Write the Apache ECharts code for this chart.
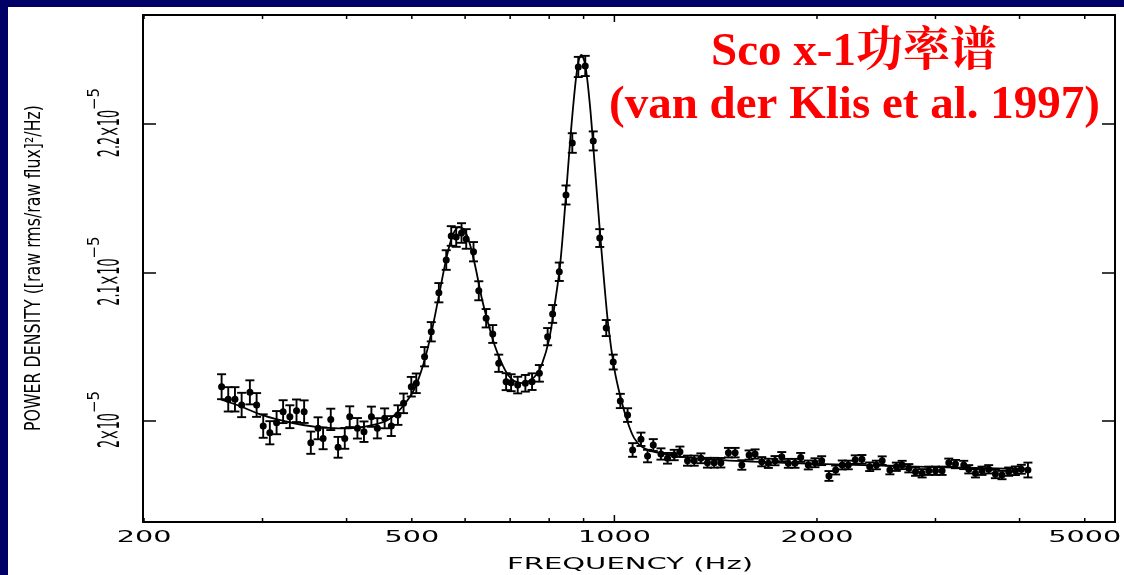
<!DOCTYPE html>
<html>
<head>
<meta charset="utf-8">
<script src="https://cdn.jsdelivr.net/npm/echarts@6/dist/echarts.min.js"></script>
<style>
  html, body { margin: 0; padding: 0; width: 1124px; height: 575px; background: #000066; overflow: hidden; }
  #chart { position: absolute; left: 8px; top: 7px; width: 1116px; height: 568px; background: #ffffff; }
</style>
</head>
<body>
<div id="chart"></div>
<script>
// Sco X-1 power density spectrum (van der Klis et al. 1997)
// Power values are in units of 1e-5 (raw rms/raw flux)^2/Hz.

const freqHz = [
  260.8, 266.8, 273.0, 279.3, 287.3, 294.0, 300.7, 307.6, 314.8, 321.9,
  329.4, 337.0, 345.9, 353.9, 362.8, 369.1, 378.9, 388.5, 397.5, 404.3,
  415.1, 424.5, 435.4, 444.4, 455.6, 466.1, 476.8, 486.1, 499.1, 507.7,
  522.3, 534.4, 548.5, 562.5, 572.2, 582.0, 592.7, 602.3, 617.5, 628.8,
  644.8, 659.5, 673.2, 690.4, 702.3, 718.3, 737.4, 754.5, 773.6, 795.8,
  809.5, 828.2, 847.4, 865.8, 883.8, 905.1, 930.2, 951.1, 972.5, 996.0,
  1020.5, 1046.2, 1064.3, 1095.2, 1120.2, 1142.3, 1172.7, 1199.4, 1227.2, 1251.3,
  1284.3, 1314.0, 1344.4, 1375.0, 1406.9, 1439.4, 1477.3, 1511.5, 1546.5, 1585.5,
  1618.3, 1655.8, 1693.5, 1732.7, 1772.9, 1813.3, 1855.2, 1891.7, 1941.5, 1986.4,
  2032.4, 2083.8, 2132.0, 2180.8, 2226.0, 2279.8, 2332.6, 2395.4, 2450.8, 2500.0,
  2566.6, 2624.2, 2676.8, 2738.8, 2802.2, 2866.0, 2932.4, 3000.4, 3068.8, 3139.8,
  3212.6, 3304.8, 3361.8, 3439.6, 3518.0, 3599.4, 3682.8, 3766.8, 3853.8, 3943.0,
  4024.6, 4116.4
];

const powerE5 = [
  2.0231, 2.0146, 2.0146, 2.0108, 2.0193, 2.0108, 1.9966, 1.9921, 1.9989, 2.0063,
  2.0029, 2.0069, 2.0063, 1.9854, 1.9951, 1.9883, 2.0011, 1.9823, 1.9883, 2.0029,
  1.9951, 1.9928, 2.0029, 1.9951, 2.0018, 1.9966, 2.0040, 2.0119, 2.0231, 2.0254,
  2.0433, 2.0601, 2.0864, 2.1084, 2.1246, 2.1239, 2.1266, 2.1226, 2.1140, 2.0877,
  2.0692, 2.0586, 2.0389, 2.0265, 2.0258, 2.0242, 2.0254, 2.0265, 2.0321, 2.0568,
  2.0721, 2.1005, 2.1522, 2.1872, 2.2384, 2.2391, 2.1886, 2.1232, 2.0626, 2.0397,
  2.0135, 2.0040, 1.9805, 1.9877, 1.9764, 1.9838, 1.9778, 1.9749, 1.9771, 1.9793,
  1.9733, 1.9733, 1.9749, 1.9719, 1.9719, 1.9719, 1.9787, 1.9787, 1.9704, 1.9771,
  1.9778, 1.9726, 1.9715, 1.9733, 1.9760, 1.9715, 1.9715, 1.9755, 1.9704, 1.9719,
  1.9733, 1.9630, 1.9670, 1.9704, 1.9704, 1.9740, 1.9742, 1.9692, 1.9704, 1.9733,
  1.9670, 1.9692, 1.9704, 1.9682, 1.9659, 1.9648, 1.9665, 1.9665, 1.9665, 1.9719,
  1.9710, 1.9704, 1.9675, 1.9648, 1.9665, 1.9675, 1.9643, 1.9636, 1.9659, 1.9665,
  1.9675, 1.9670
];

const errE5 = [
  0.0084, 0.0082, 0.0082, 0.0082, 0.0081, 0.0080, 0.0079, 0.0078, 0.0078, 0.0077,
  0.0077, 0.0076, 0.0076, 0.0075, 0.0074, 0.0073, 0.0072, 0.0070, 0.0070, 0.0070,
  0.0069, 0.0069, 0.0068, 0.0068, 0.0067, 0.0067, 0.0066, 0.0066, 0.0066, 0.0066,
  0.0065, 0.0065, 0.0065, 0.0066, 0.0066, 0.0066, 0.0066, 0.0066, 0.0065, 0.0064,
  0.0062, 0.0060, 0.0058, 0.0057, 0.0057, 0.0056, 0.0056, 0.0056, 0.0056, 0.0058,
  0.0060, 0.0062, 0.0064, 0.0066, 0.0068, 0.0068, 0.0064, 0.0060, 0.0054, 0.0050,
  0.0048, 0.0046, 0.0046, 0.0045, 0.0042, 0.0040, 0.0038, 0.0036, 0.0035, 0.0035,
  0.0034, 0.0034, 0.0033, 0.0033, 0.0033, 0.0032, 0.0032, 0.0032, 0.0032, 0.0031,
  0.0031, 0.0031, 0.0031, 0.0031, 0.0031, 0.0030, 0.0030, 0.0030, 0.0030, 0.0030,
  0.0030, 0.0033, 0.0030, 0.0030, 0.0029, 0.0029, 0.0029, 0.0029, 0.0029, 0.0029,
  0.0029, 0.0028, 0.0028, 0.0028, 0.0028, 0.0028, 0.0028, 0.0028, 0.0028, 0.0028,
  0.0028, 0.0028, 0.0028, 0.0028, 0.0028, 0.0028, 0.0028, 0.0028, 0.0028, 0.0029,
  0.0030, 0.0050
];

// Model curve (two QPO peaks on a continuum)
const fitFreqHz = [
  260, 275, 300, 330, 360, 390, 420, 440, 460, 475,
  490, 505, 520, 535, 550, 563, 575, 587, 598, 610,
  622, 635, 650, 665, 680, 695, 710, 730, 750, 765,
  780, 800, 815, 830, 845, 860, 875, 885, 893, 905,
  920, 935, 950, 965, 980, 1000, 1020, 1045, 1070, 1100,
  1150, 1250, 1400, 1700, 2200, 3000, 4116
];
const fitPowerE5 = [
  2.0145, 2.0108, 2.0040, 1.9990, 1.9960, 1.9950, 1.9958, 1.9975, 2.0005, 2.0055,
  2.0125, 2.0220, 2.0380, 2.0600, 2.0870, 2.1100, 2.1250, 2.1305, 2.1290, 2.1190,
  2.1030, 2.0830, 2.0650, 2.0500, 2.0390, 2.0310, 2.0270, 2.0255, 2.0275, 2.0310,
  2.0380, 2.0550, 2.0780, 2.1040, 2.1450, 2.1900, 2.2270, 2.2430, 2.2465, 2.2400,
  2.2120, 2.1720, 2.1320, 2.0950, 2.0630, 2.0350, 2.0170, 2.0000, 1.9885, 1.9825,
  1.9790, 1.9762, 1.9740, 1.9722, 1.9706, 1.9690, 1.9676
];

// Axis ticks and labels
const xMajorTicks = [1000];
const xMinorTicks = [200, 300, 400, 500, 600, 700, 800, 900, 2000, 3000, 4000, 5000];
const xTickLabels = [200, 500, 1000, 2000, 5000];
const yTickValues = [2.0, 2.1, 2.2];
const yTickMantissas = ['2', '2.1', '2.2'];
const yTickExponent = '\u22125';

const X_MIN = 199.3, X_MAX = 5545;
const Y_MIN = 1.932, Y_MAX = 2.2734;

const titleLine1 = 'Sco x-1功率谱';
const titleLine2 = '(van der Klis et al. 1997)';
const xAxisTitle = 'FREQUENCY (Hz)';
const yAxisTitle = 'POWER DENSITY ([raw rms/raw flux]\u00B2/Hz)';

const chart = echarts.init(document.getElementById('chart'), null, { renderer: 'canvas' });

const frameLine = { show: true, onZero: false, lineStyle: { color: '#000', width: 2 } };

function xAxisDef(pos) {
  return {
    type: 'log', logBase: 10, min: X_MIN, max: X_MAX, position: pos,
    axisLine: frameLine, axisTick: { show: false }, minorTick: { show: false },
    axisLabel: { show: false }, splitLine: { show: false }
  };
}
function yAxisDef(pos) {
  return {
    type: 'value', min: Y_MIN, max: Y_MAX, position: pos,
    axisLine: frameLine,
    axisTick: { show: true, inside: true, length: 13, customValues: yTickValues,
                lineStyle: { color: '#000', width: 1.5 } },
    axisLabel: { show: false }, splitLine: { show: false }
  };
}

const tickData = xMajorTicks.map(f => [f, 1]).concat(xMinorTicks.map(f => [f, 0]));
const pointData = freqHz.map((f, i) => [f, powerE5[i], errE5[i]]);
const fitData = fitFreqHz.map((f, i) => [f, fitPowerE5[i]]);

const ink = '#000';

chart.setOption({
  animation: false,
  grid: { left: 135, top: 8, right: 9, bottom: 53, show: false },
  xAxis: [xAxisDef('bottom'), xAxisDef('top')],
  yAxis: [yAxisDef('left'), yAxisDef('right')],
  series: [
    {
      name: 'model', type: 'line', data: fitData, xAxisIndex: 0, yAxisIndex: 0,
      showSymbol: false, smooth: 0.3, silent: true,
      lineStyle: { color: ink, width: 1.8 }, z: 2
    },
    {
      name: 'power', type: 'custom', xAxisIndex: 0, yAxisIndex: 0, data: pointData,
      encode: { x: 0, y: 1 }, silent: true, z: 3,
      renderItem(params, api) {
        const f = api.value(0), v = api.value(1), e = api.value(2);
        const c = api.coord([f, v]);
        const hi = api.coord([f, v + e]);
        const lo = api.coord([f, v - e]);
        const cap = 4.5;
        const st = { stroke: ink, lineWidth: 1.9 };
        return {
          type: 'group',
          children: [
            { type: 'line', shape: { x1: c[0], y1: hi[1], x2: c[0], y2: lo[1] }, style: st },
            { type: 'line', shape: { x1: c[0] - cap, y1: hi[1], x2: c[0] + cap, y2: hi[1] }, style: st },
            { type: 'line', shape: { x1: c[0] - cap, y1: lo[1], x2: c[0] + cap, y2: lo[1] }, style: st },
            { type: 'circle', shape: { cx: c[0], cy: c[1], r: 3.5 }, style: { fill: ink } }
          ]
        };
      }
    },
    {
      name: 'xticks', type: 'custom', xAxisIndex: 0, yAxisIndex: 0, data: tickData,
      encode: { x: 0, y: 1 }, silent: true, z: 4,
      renderItem(params, api) {
        const f = api.value(0), major = api.value(1);
        const b = api.coord([f, Y_MIN]);
        const t = api.coord([f, Y_MAX]);
        const len = major ? 7 : 4;
        const st = { stroke: ink, lineWidth: 1.5 };
        return {
          type: 'group',
          children: [
            { type: 'line', shape: { x1: b[0], y1: b[1], x2: b[0], y2: b[1] - len }, style: st },
            { type: 'line', shape: { x1: t[0], y1: t[1], x2: t[0], y2: t[1] + len }, style: st }
          ]
        };
      }
    }
  ]
});

// Text layout: labels use stretched/condensed lettering like the plotting package.
const mctx = document.createElement('canvas').getContext('2d');
function textWidth(txt, font) { mctx.font = font; return mctx.measureText(txt).width; }

const px = f => chart.convertToPixel({ xAxisIndex: 0 }, f);
const py = v => chart.convertToPixel({ yAxisIndex: 0 }, v);

const labelFont = '15px "DejaVu Sans", sans-serif';
const xLabelScale = 73 / textWidth('2000', labelFont);
const xTitleScale = 246 / textWidth(xAxisTitle, labelFont);

const yTitleFont = '20.5px "DejaVu Sans", sans-serif';
const yTitleScale = 326 / textWidth(yAxisTitle, yTitleFont);

const yMainFont = '30px "DejaVu Sans", sans-serif';
const ySupFont = '15px "DejaVu Sans", sans-serif';
const yMainScale = 35 / textWidth('2\u00D710', yMainFont);

const titleFont = 'bold 47px "Liberation Serif", "Times New Roman", "Noto Serif CJK SC", "Noto Sans CJK SC", serif';

const textInk = '#000';
const graphics = [];

xTickLabels.forEach(v => {
  graphics.push({
    type: 'text', x: px(v), y: 531, scaleX: xLabelScale, silent: true,
    style: { text: String(v), font: labelFont, fill: textInk, textAlign: 'center', textVerticalAlign: 'middle', verticalAlign: 'middle' }
  });
});

graphics.push({
  type: 'text', x: 622, y: 558, scaleX: xTitleScale, silent: true,
  style: { text: xAxisTitle, font: labelFont, fill: textInk, textAlign: 'center', textVerticalAlign: 'middle', verticalAlign: 'middle' }
});

graphics.push({
  type: 'text', x: 26.2, y: 261, rotation: Math.PI / 2, scaleX: yTitleScale, silent: true,
  style: { text: yAxisTitle, font: yTitleFont, fill: textInk, textAlign: 'center', textVerticalAlign: 'middle', verticalAlign: 'middle' }
});

yTickValues.forEach((v, i) => {
  const mainText = yTickMantissas[i] + '\u00D710';
  const wMain = textWidth(mainText, yMainFont) * yMainScale;
  const wSup = textWidth(yTickExponent, ySupFont);
  const s0 = -(wMain + wSup) / 2 + 1.5;
  graphics.push({
    type: 'group', x: 103, y: py(v), rotation: Math.PI / 2, silent: true,
    children: [
      { type: 'text', x: s0, y: 0, scaleX: yMainScale,
        style: { text: mainText, font: yMainFont, fill: textInk, textAlign: 'left', textVerticalAlign: 'middle', verticalAlign: 'middle' } },
      { type: 'text', x: s0 + wMain, y: -16.3,
        style: { text: yTickExponent, font: ySupFont, fill: textInk, textAlign: 'left', textVerticalAlign: 'middle', verticalAlign: 'middle' } }
    ]
  });
});

graphics.push({
  type: 'text', x: 846, y: 46, silent: true,
  style: { text: titleLine1, font: titleFont, fill: '#ff0000', textAlign: 'center', textVerticalAlign: 'middle', verticalAlign: 'middle' }
});
graphics.push({
  type: 'text', x: 846.5, y: 99, silent: true,
  style: { text: titleLine2, font: titleFont, fill: '#ff0000', textAlign: 'center', textVerticalAlign: 'middle', verticalAlign: 'middle' }
});

chart.setOption({ graphic: graphics });
</script>
</body>
</html>
